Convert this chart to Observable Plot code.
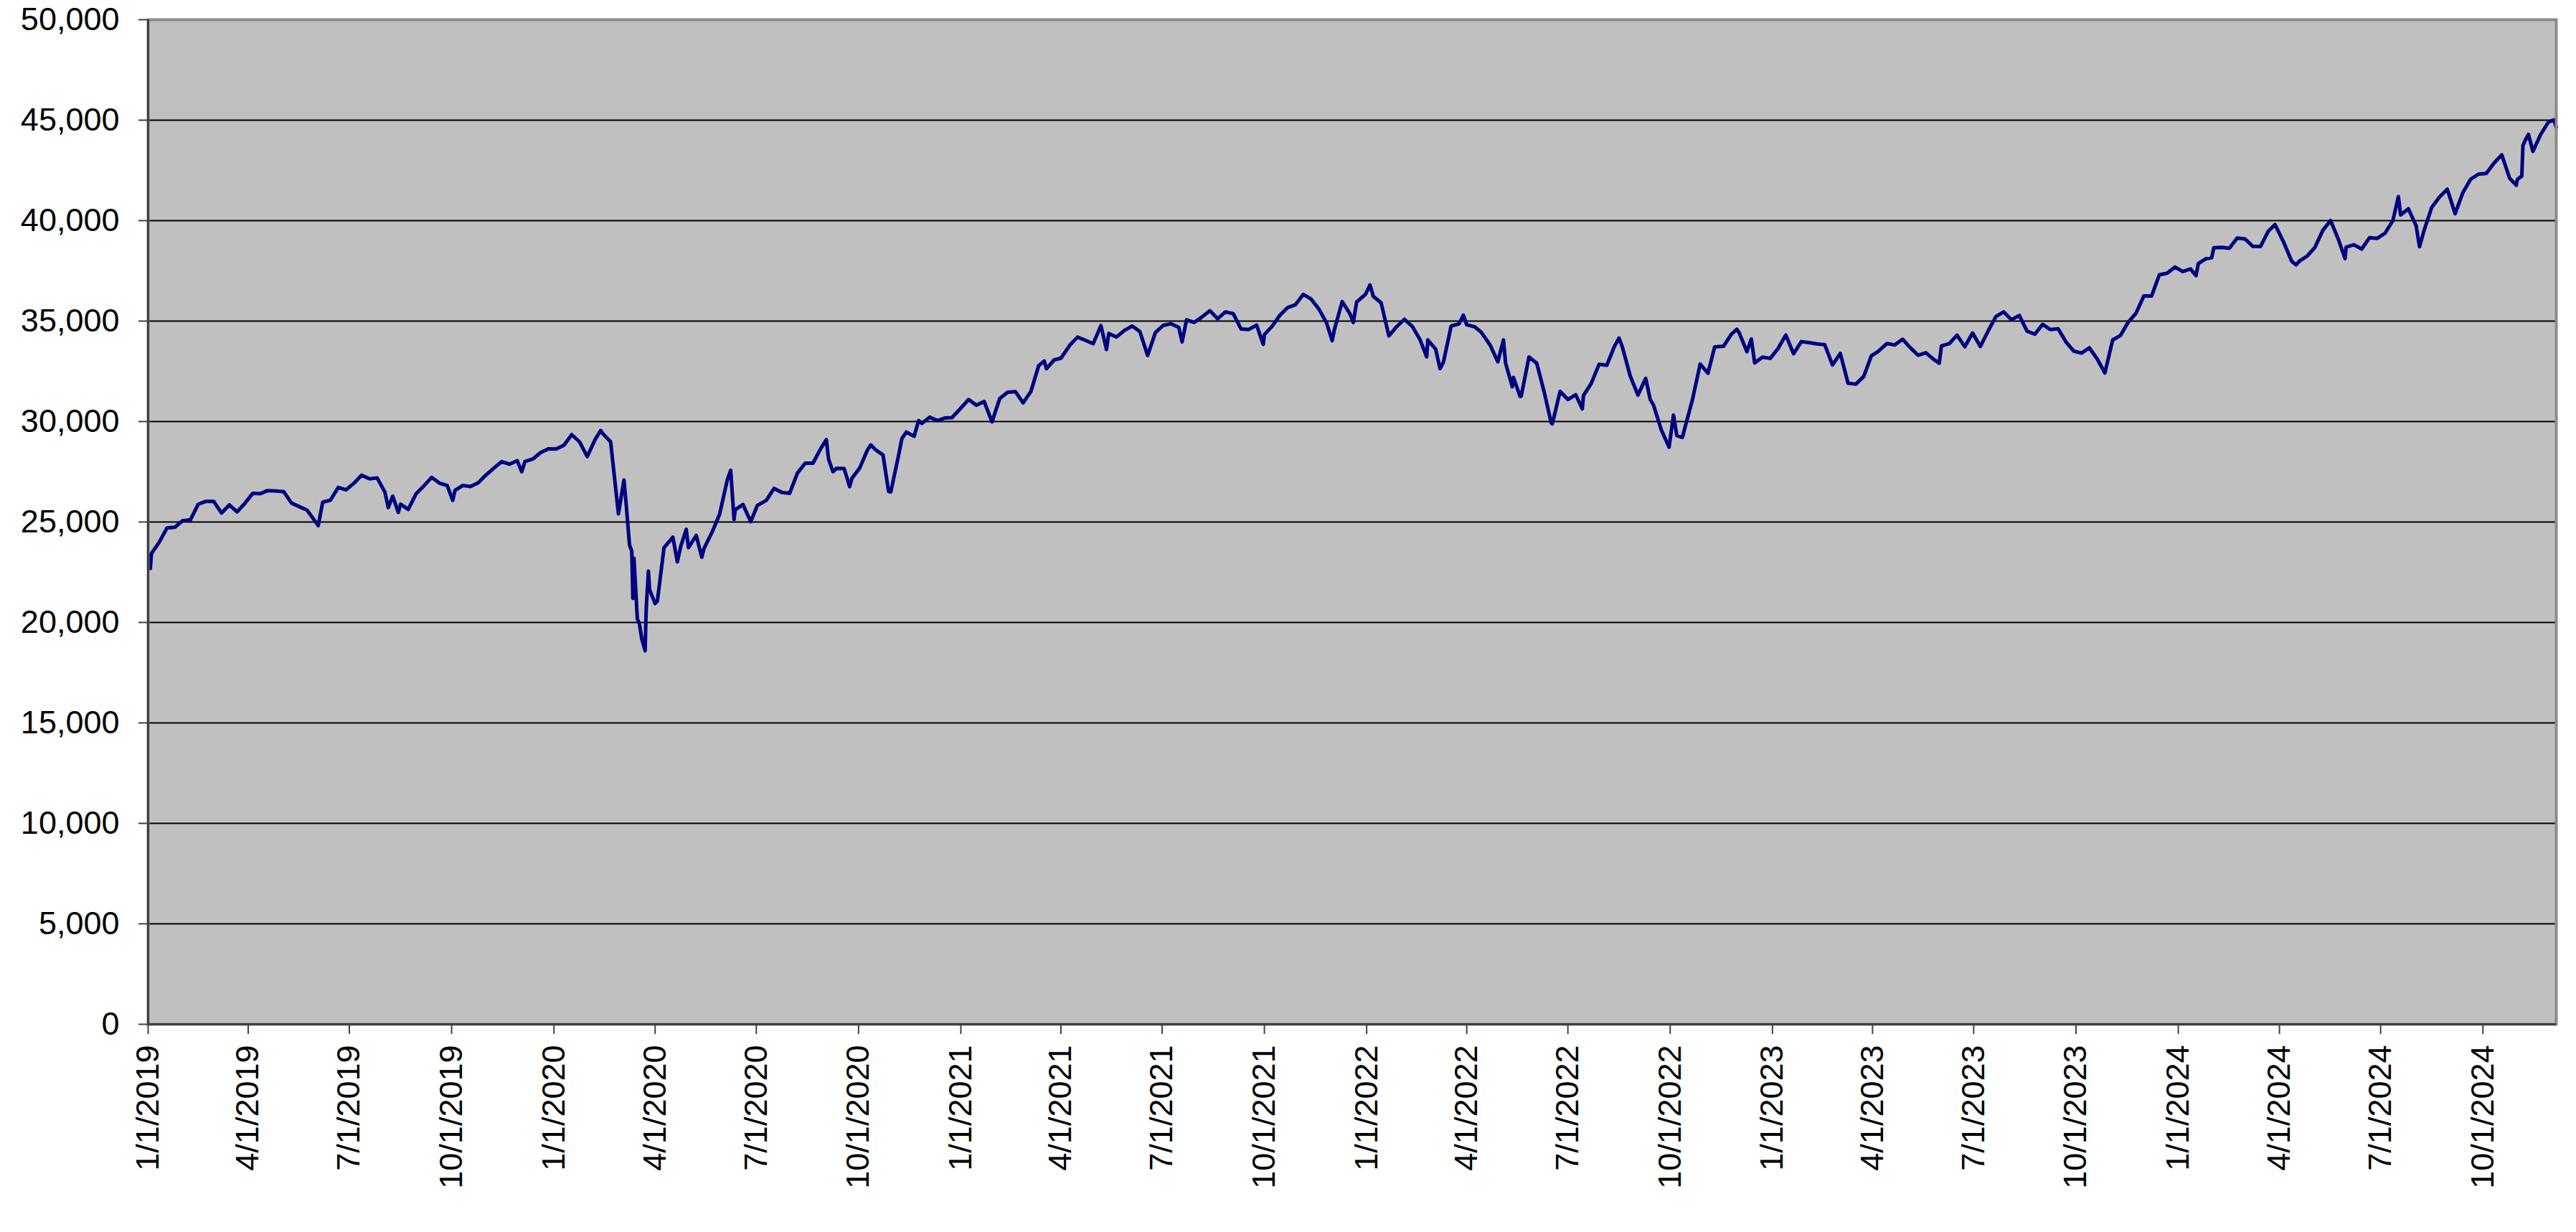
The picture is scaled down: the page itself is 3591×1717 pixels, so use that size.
<!DOCTYPE html>
<html><head><meta charset="utf-8">
<script src="https://cdn.jsdelivr.net/npm/d3@7"></script>
<script src="https://cdn.jsdelivr.net/npm/@observablehq/plot@0.6"></script>
<style>html,body{margin:0;padding:0;background:#fff;}</style>
</head><body><div id="chart"></div>
<script>
// Series values (date "MM-DD", close) grouped by year
const y2019 = [["01-02",23346],["01-03",22686],["01-04",23433],["01-11",23996],["01-18",24706],["01-25",24737],["02-01",25064],["02-08",25106],["02-15",25883],["02-22",26031],["03-01",26026],["03-08",25450],["03-15",25849],["03-22",25502],["03-29",25929],["04-05",26425],["04-12",26412],["04-18",26559],["04-26",26543],["05-03",26505],["05-10",25942],["05-17",25764],["05-24",25586],["06-03",24820],["06-07",25984],["06-14",26090],["06-21",26719],["06-28",26600],["07-05",26922],["07-12",27332],["07-19",27154],["07-26",27192],["08-02",26485],["08-05",25718],["08-09",26287],["08-14",25480],["08-16",25886],["08-23",25629],["08-30",26403],["09-06",26797],["09-13",27220],["09-20",26935],["09-27",26820],["10-02",26078],["10-04",26573],["10-11",26817],["10-18",26770],["10-25",26958],["11-01",27347],["11-08",27681],["11-15",28005],["11-22",27876],["11-29",28051],["12-03",27503],["12-06",28015],["12-13",28135],["12-20",28455],["12-27",28645]];
const y2020 = [["01-03",28635],["01-10",28824],["01-17",29348],["01-24",28990],["01-31",28256],["02-07",29102],["02-12",29551],["02-14",29398],["02-21",28992],["02-28",25409],["03-04",27091],["03-06",25865],["03-09",23851],["03-11",23553],["03-12",21200],["03-13",23186],["03-16",20189],["03-18",19899],["03-20",19174],["03-23",18592],["03-24",20705],["03-26",22552],["03-27",21637],["04-01",20944],["04-03",21053],["04-09",23719],["04-17",24242],["04-21",23019],["04-24",23775],["04-29",24634],["05-01",23724],["05-08",24331],["05-13",23248],["05-15",23685],["05-22",24465],["05-29",25383],["06-05",27111],["06-08",27572],["06-11",25128],["06-12",25606],["06-19",25871],["06-26",25016],["07-02",25827],["07-10",26075],["07-17",26672],["07-24",26470],["07-31",26428],["08-07",27433],["08-14",27931],["08-21",27930],["08-28",28654],["09-02",29100],["09-04",28133],["09-08",27501],["09-11",27666],["09-18",27657],["09-23",26763],["09-25",27174],["10-02",27683],["10-09",28587],["10-12",28837],["10-16",28606],["10-23",28335],["10-28",26519],["10-30",26502],["11-06",28323],["11-09",29157],["11-13",29480],["11-20",29263],["11-24",30046],["11-27",29910],["12-04",30218],["12-11",30046],["12-18",30179],["12-24",30200],["12-31",30606]];
const y2021 = [["01-08",31098],["01-15",30814],["01-22",30997],["01-29",29983],["02-05",31148],["02-12",31458],["02-19",31494],["02-26",30932],["03-05",31496],["03-12",32779],["03-17",33015],["03-19",32628],["03-26",33072],["04-01",33153],["04-09",33801],["04-16",34201],["04-23",34043],["04-30",33875],["05-07",34778],["05-12",33587],["05-14",34382],["05-21",34208],["05-28",34529],["06-04",34756],["06-11",34480],["06-18",33290],["06-25",34433],["07-02",34786],["07-09",34870],["07-16",34687],["07-19",33962],["07-23",35062],["07-30",34935],["08-06",35209],["08-13",35515],["08-20",35120],["08-27",35456],["09-03",35369],["09-10",34608],["09-17",34584],["09-24",34798],["09-30",33844],["10-01",34326],["10-08",34746],["10-15",35295],["10-22",35677],["10-29",35820],["11-05",36328],["11-12",36100],["11-19",35602],["11-26",34899],["12-01",34022],["12-03",34580],["12-10",35971],["12-17",35365],["12-20",34932],["12-23",35951],["12-31",36338]];
const y2022 = [["01-04",36799],["01-07",36232],["01-14",35912],["01-21",34265],["01-28",34725],["02-04",35090],["02-11",34738],["02-18",34079],["02-24",33224],["02-25",34059],["03-04",33615],["03-08",32633],["03-11",32944],["03-18",34755],["03-25",34861],["03-29",35294],["04-01",34818],["04-08",34721],["04-14",34451],["04-22",33811],["04-29",32977],["05-04",34061],["05-06",32899],["05-12",31730],["05-13",32197],["05-19",31253],["05-20",31262],["05-27",33213],["06-03",32900],["06-10",31393],["06-16",29927],["06-17",29889],["06-24",31501],["07-01",31097],["07-08",31338],["07-14",30630],["07-15",31289],["07-22",31899],["07-29",32845],["08-05",32803],["08-12",33761],["08-16",34152],["08-19",33707],["08-26",32283],["09-02",31318],["09-09",32152],["09-13",31105],["09-16",30822],["09-23",29590],["09-30",28726],["10-04",30317],["10-07",29297],["10-12",29210],["10-14",29635],["10-21",31083],["10-28",32862],["11-04",32403],["11-10",33716],["11-18",33746],["11-25",34347],["11-30",34590],["12-02",34430],["12-09",33476],["12-13",34108],["12-16",32920],["12-23",33204],["12-30",33147]];
const y2023 = [["01-06",33631],["01-13",34303],["01-20",33375],["01-27",33978],["02-03",33926],["02-10",33869],["02-17",33827],["02-24",32817],["03-03",33391],["03-10",31910],["03-17",31862],["03-24",32238],["03-31",33274],["04-06",33485],["04-14",33887],["04-21",33809],["04-28",34098],["05-05",33675],["05-12",33301],["05-19",33427],["05-26",33093],["05-31",32908],["06-02",33763],["06-09",33877],["06-16",34299],["06-23",33727],["06-30",34408],["07-07",33735],["07-14",34509],["07-21",35228],["07-28",35459],["08-04",35066],["08-11",35281],["08-18",34501],["08-25",34347],["09-01",34838],["09-08",34577],["09-15",34618],["09-22",33964],["09-29",33508],["10-06",33408],["10-13",33670],["10-20",33127],["10-27",32418],["11-03",34061],["11-10",34283],["11-17",34947],["11-24",35390],["12-01",36246],["12-08",36248],["12-15",37306],["12-22",37386],["12-29",37690]];
const y2024 = [["01-05",37466],["01-12",37593],["01-17",37267],["01-19",37864],["01-26",38109],["01-31",38150],["02-02",38654],["02-09",38672],["02-16",38628],["02-23",39131],["03-01",39087],["03-08",38723],["03-15",38715],["03-22",39476],["03-28",39807],["04-05",38904],["04-12",37983],["04-16",37799],["04-19",37986],["04-26",38240],["05-03",38676],["05-10",39513],["05-17",40004],["05-24",39070],["05-30",38111],["05-31",38686],["06-07",38799],["06-14",38589],["06-21",39150],["06-28",39119],["07-05",39376],["07-12",40001],["07-17",41198],["07-19",40287],["07-26",40589],["08-02",39737],["08-05",38703],["08-09",39497],["08-16",40660],["08-23",41175],["08-30",41563],["09-06",40345],["09-13",41394],["09-20",42063],["09-27",42313],["10-04",42352],["10-11",42864],["10-18",43275],["10-25",42114],["10-31",41763],["11-01",42052],["11-05",42222],["11-06",43729],["11-08",43989],["11-11",44293],["11-15",43444],["11-22",44296],["11-29",44911],["12-04",45014],["12-06",44642]];

// Tick labels
const yTicks = [0,5000,10000,15000,20000,25000,30000,35000,40000,45000,50000];
const xTickLabels = ["1/1/2019","4/1/2019","7/1/2019","10/1/2019","1/1/2020","4/1/2020","7/1/2020","10/1/2020","1/1/2021","4/1/2021","7/1/2021","10/1/2021","1/1/2022","4/1/2022","7/1/2022","10/1/2022","1/1/2023","4/1/2023","7/1/2023","10/1/2023","1/1/2024","4/1/2024","7/1/2024","10/1/2024"];
const xStart = "2019-01-01", xEnd = "2024-12-06";

const byYear = [[2019,y2019],[2020,y2020],[2021,y2021],[2022,y2022],[2023,y2023],[2024,y2024]];
const data = [];
for (const [yr, arr] of byYear) for (const [md, v] of arr) data.push({date: new Date(`${yr}-${md}T00:00:00Z`), value: v});
const parseLabel = s => { const [m,d,y] = s.split("/").map(Number); return new Date(Date.UTC(y, m-1, d)); };
const xTicks = xTickLabels.map(parseLabel);
const fmtDate = d => `${d.getUTCMonth()+1}/${d.getUTCDate()}/${d.getUTCFullYear()}`;
const x0 = new Date(xStart + "T00:00:00Z"), x1 = new Date(xEnd + "T00:00:00Z");

const chart = Plot.plot({
  width: 3591, height: 1717,
  marginLeft: 206, marginRight: 28, marginTop: 27, marginBottom: 290,
  style: {fontFamily: "'Liberation Sans', Arial, sans-serif", fontSize: "45px", color: "#000", background: "#fff"},
  x: {type: "utc", domain: [x0, x1], label: null},
  y: {domain: [0, 50000], label: null},
  marks: [
    Plot.frame({fill: "#c0c0c0", stroke: null}),
    Plot.gridY(yTicks.slice(1, -1), {stroke: "#000", strokeOpacity: 1, strokeWidth: 2}),
    Plot.line(data, {x: "date", y: "value", stroke: "#000080", strokeWidth: 5}),
    Plot.frame({stroke: "#8a8a8a", strokeWidth: 4}),
    Plot.ruleX([x0], {stroke: "#404040", strokeWidth: 3}),
    Plot.ruleY([0], {stroke: "#404040", strokeWidth: 3}),
    Plot.axisY(yTicks, {label: null, tickFormat: d3.format(","), fontSize: 45, tickSize: 13, tickPadding: 27, stroke: "#404040", strokeWidth: 2}),
    Plot.axisX(xTicks, {label: null, tickFormat: fmtDate, tickRotate: -90, fontSize: 45, tickSize: 14, tickPadding: 15, textAnchor: "end", lineAnchor: "middle", stroke: "#404040", strokeWidth: 2})
  ]
});
document.getElementById("chart").appendChild(chart);
</script>
</body></html>
